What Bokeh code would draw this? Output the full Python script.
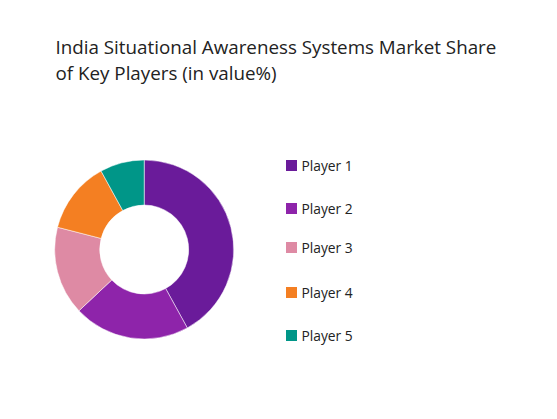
import numpy as np
import pandas as pd
from bokeh.plotting import figure
from bokeh.models import Range1d, ColumnDataSource
from bokeh.core.properties import value
from bokeh.embed import file_html
from bokeh.resources import INLINE

title_lines = ["India Situational Awareness Systems Market Share", "of Key Players (in value%)"]
players = ["Player 1", "Player 2", "Player 3", "Player 4", "Player 5"]
shares = [42, 21, 16, 13, 8]
colors = ["#6a1b9a", "#8e24aa", "#de8aa4", "#f47f22", "#009688"]

W, H = 541, 403
p = figure(width=W, height=H, output_backend="svg", toolbar_location=None,
           x_range=Range1d(0, W), y_range=Range1d(0, H), min_border=0)
p.axis.visible = False
p.grid.visible = False
p.outline_line_color = None
p.background_fill_color = "white"

df = pd.DataFrame({"player": players, "share": shares, "color": colors})
df["angle"] = df["share"] / df["share"].sum() * 2 * np.pi
df["end"] = np.pi / 2 - df["angle"].cumsum()
df["start"] = df["end"] + df["angle"]
src = ColumnDataSource(df)

cx, cy = 143.7, H - 249
p.annular_wedge(x=cx, y=cy, inner_radius=44.5, outer_radius=89.5,
                start_angle="end", end_angle="start", direction="anticlock",
                fill_color="color", line_color="white", line_width=0.5, source=src)

leg_y = [H - 165, H - 208, H - 247, H - 292, H - 335]
lsrc = ColumnDataSource(dict(x=[291] * 5, y=leg_y, tx=[301] * 5, label=players, color=colors))
p.scatter(x="x", y="y", marker="square", size=11, fill_color="color", line_color=None, source=lsrc)
p.text(x="tx", y="y", text="label", text_font=value("Open Sans"), text_font_size="13.8px",
       text_baseline="middle", text_color="#222222", source=lsrc)

p.text(x=[55, 55], y=[H - 46, H - 72], text=title_lines, text_font=value("Open Sans"),
       text_font_size="18.8px", text_baseline="middle", text_color="#222222")

open("out.html", "w").write(file_html(p, INLINE))
